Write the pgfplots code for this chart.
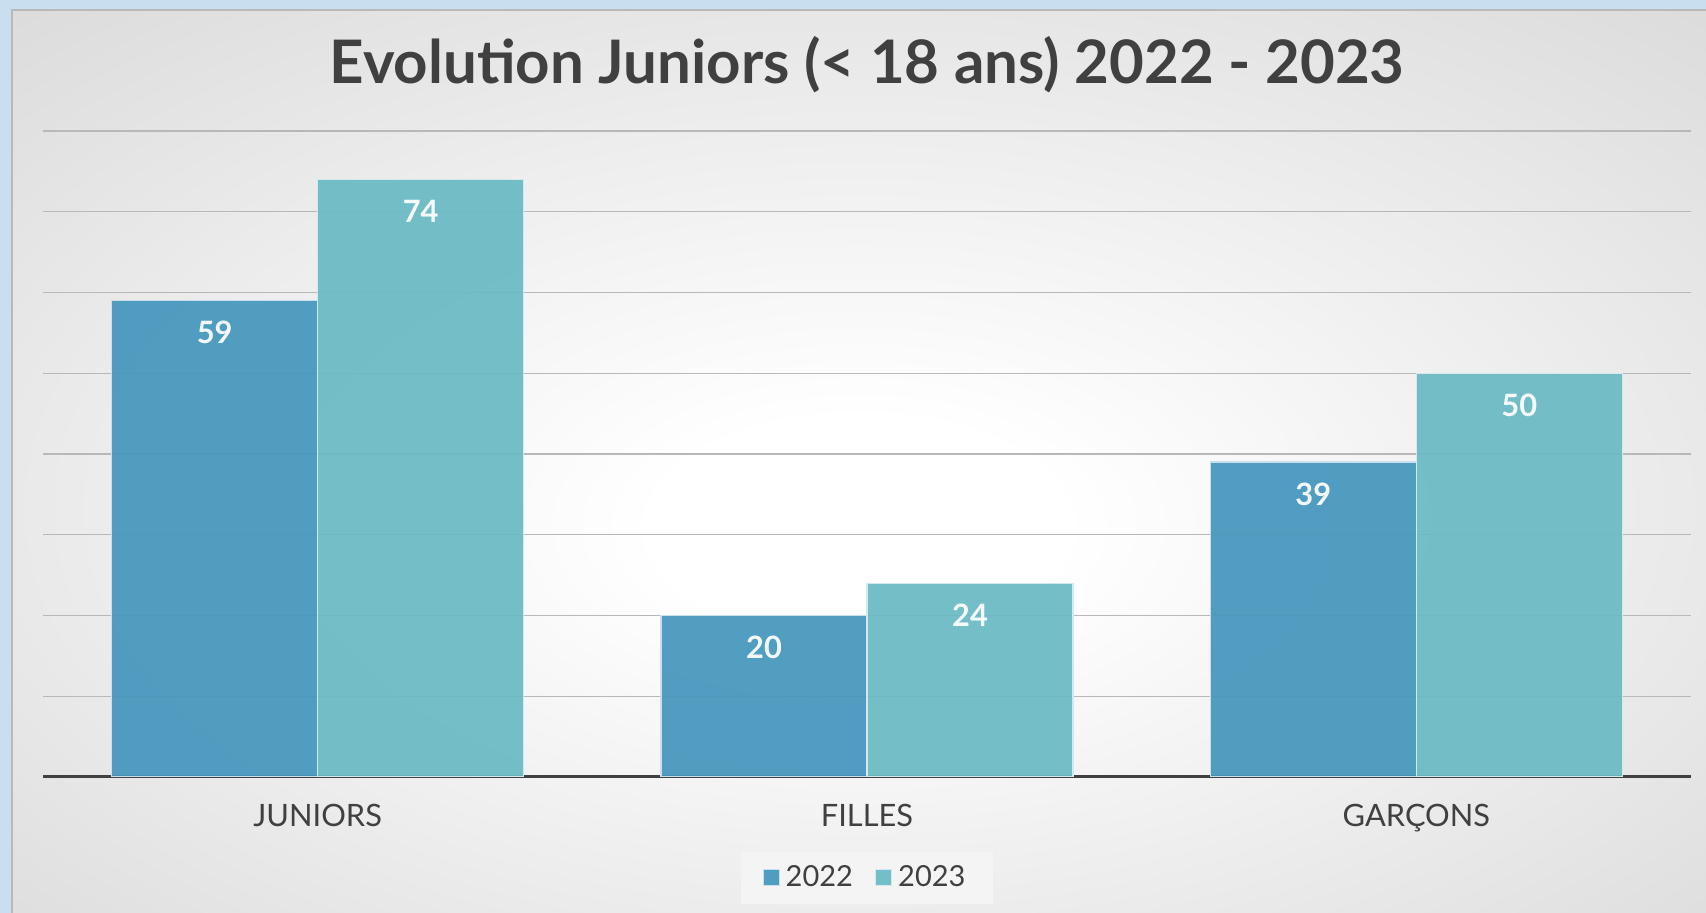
\documentclass[border=0pt]{standalone}
\usepackage{pgfplots}
\pgfplotsset{compat=1.18}
\usepackage{fontspec}
\setmainfont{Lato}
\definecolor{bgblue}{HTML}{C9DEEE}
\definecolor{bgmid}{HTML}{D2D2D2}
\definecolor{bgedge}{HTML}{C0C0C0}
\definecolor{txt}{HTML}{404040}
\definecolor{cA}{HTML}{4597BD}
\definecolor{cB}{HTML}{6ABAC4}
\definecolor{gridc}{HTML}{B8B8B8}
\definecolor{legbg}{HTML}{F4F4F4}
\pgfdeclareradialshading{bgrad}{\pgfpoint{0bp}{-4bp}}{color(0bp)=(white); color(6bp)=(white); color(45bp)=(bgmid); color(68bp)=(bgedge)}
\begin{document}
\begin{tikzpicture}
\useasboundingbox (0pt,0pt) rectangle (853pt,456.5pt);
\fill[bgblue] (0pt,0pt) rectangle (853pt,456.5pt);
\shade[shading=bgrad] (6pt,0pt) rectangle (853pt,451.5pt);
\draw[gray!55, line width=0.8pt] (6pt,0pt) -- (6pt,451.5pt) -- (853pt,451.5pt);
\node[anchor=base, font=\fontsize{30}{33}\selectfont\bfseries, text=txt, inner sep=0pt] at (433.5pt,414.5pt) {Evolution Juniors (< 18 ans) 2022 - 2023};
\begin{axis}[
  at={(21.5pt,68pt)}, anchor=south west,
  scale only axis, width=824pt, height=323pt,
  xmin=-0.5, xmax=2.5, ymin=0, ymax=80,
  ybar=0pt, bar width=103pt,
  axis x line*=bottom, axis y line*=left,
  x axis line style={-, line width=1.5pt, color=txt},
  y axis line style={draw=none},
  xtick={0,1,2}, xticklabels={JUNIORS, FILLES, GAR\c{C}ONS},
  major tick length=0pt,
  xticklabel style={anchor=base, yshift=-25pt, font=\fontsize{15.4}{18}\selectfont, text=txt, inner sep=0pt},
  ytick={0,10,...,80}, yticklabels={},
  ymajorgrids, grid style={gridc, line width=0.6pt},
  nodes near coords={\pgfmathprintnumber[assume math mode=true]{\pgfplotspointmeta}},
  every node near coord/.append style={anchor=north, yshift=-10pt, inner sep=0pt, text=white, font=\fontsize{15.4}{18}\selectfont\bfseries},
  legend columns=2,
  legend style={at={(0.5,-0.1556)}, anchor=center, draw=none, fill=legbg, font=\fontsize{14.5}{18}\selectfont, text=txt,
    inner xsep=11pt, inner ysep=5pt, /tikz/every even column/.append style={column sep=8pt},
    nodes={inner xsep=3pt}},
  legend image code/.code={\fill[#1] (0pt,-4pt) rectangle (8pt,4pt);},
]
\addplot[fill=cA, fill opacity=0.93, draw=white!70!cA, line width=0.6pt] coordinates {(0,59) (1,20) (2,39)};
\addplot[fill=cB, fill opacity=0.93, draw=white!70!cB, line width=0.6pt] coordinates {(0,74) (1,24) (2,50)};
\legend{2022,2023}
\end{axis}
\end{tikzpicture}
\end{document}
